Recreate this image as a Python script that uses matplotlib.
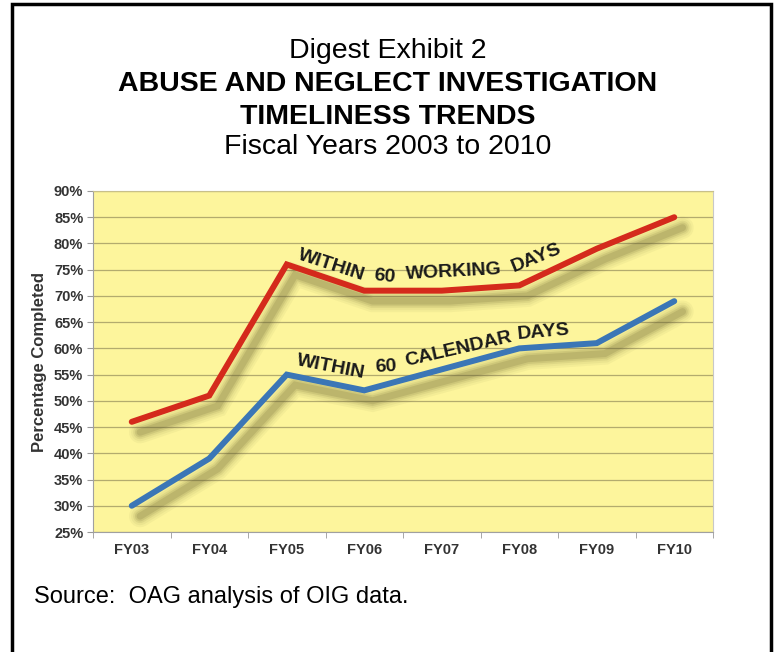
import matplotlib
matplotlib.use('Agg')
import matplotlib.pyplot as plt  # plotting
import matplotlib.patheffects as pe  # drop shadow under the lines
from matplotlib.patches import Rectangle
import numpy as np

plt.rcParams['font.family'] = ['Liberation Sans', 'DejaVu Sans']

# Fiscal years on the x axis
years = ['FY03', 'FY04', 'FY05', 'FY06', 'FY07', 'FY08', 'FY09', 'FY10']

# Percentage of investigations completed
within_working = [46, 51, 76, 71, 71, 72, 79, 85]
within_calendar = [30, 39, 55, 52, 56, 60, 61, 69]

# y axis ticks (percent)
y_ticks = [25, 30, 35, 40, 45, 50, 55, 60, 65, 70, 75, 80, 85, 90]

W, H = 775, 652
fig = plt.figure(figsize=(W / 100, H / 100), dpi=100)
fig.patch.set_facecolor('white')

# plot area in pixels: x 93..713, y 191..532
ax = fig.add_axes([93 / W, 1 - 532 / H, 620 / W, 341 / H])
ax.set_facecolor('#fdf59c')

x = np.arange(len(years))


def shadow_effects():
    # layered offset shadows to fake a soft blur
    fx = []
    for lw, a in [(16, 0.05), (13, 0.06), (10, 0.09), (7.5, 0.12), (5, 0.16)]:
        fx.append(pe.SimpleLineShadow(offset=(6, -7.5), shadow_color='#5e5a2a',
                                      alpha=a, linewidth=lw))
    fx.append(pe.Normal())
    return fx


ax.plot(x, within_working, color='#d42a1c', lw=4.3, solid_capstyle='round',
        solid_joinstyle='miter', path_effects=shadow_effects(), zorder=3)
ax.plot(x, within_calendar, color='#3b76b6', lw=4.3, solid_capstyle='round',
        solid_joinstyle='miter', path_effects=shadow_effects(), zorder=3)

# curved word-art style labels, one word at a time
label_style = dict(fontsize=14, fontweight='bold', color='#1a1a1a',
                   ha='center', va='center', zorder=4)
for word, wx, wy, rot in [('WITHIN', 2.58, 75.8, -18), ('60', 3.26, 73.7, -6),
                          ('WORKING', 4.15, 74.6, 3), ('DAYS', 5.22, 77.3, 22)]:
    ax.text(wx, wy, word, rotation=rot, rotation_mode='anchor', **label_style)
for word, wx, wy, rot in [('WITHIN', 2.57, 56.4, -11), ('60', 3.28, 56.5, 3),
                          ('CALENDAR', 4.22, 59.8, 13), ('DAYS', 5.31, 63.0, 5)]:
    ax.text(wx, wy, word, rotation=rot, rotation_mode='anchor', **label_style)

ax.set_xlim(-0.5, len(years) - 0.5)
ax.set_ylim(25, 90)
ax.set_yticks(y_ticks)
ax.set_yticklabels([f'{v}%' for v in y_ticks])
ax.set_xticks(x)
ax.set_xticklabels(years)
ax.set_xticks(np.arange(-0.5, len(years)), minor=True)
ax.tick_params(axis='x', which='major', length=0, pad=8)
ax.tick_params(axis='x', which='minor', length=4, color='#999999')
ax.tick_params(axis='y', length=4, color='#999999', pad=3)
for lab in ax.get_xticklabels() + ax.get_yticklabels():
    lab.set_fontsize(10.5)
    lab.set_fontweight('bold')
    lab.set_color('#333333')

ax.grid(axis='y', color='#b3ab6e', lw=0.9)
ax.set_axisbelow(True)
for side in ['left', 'bottom']:
    ax.spines[side].set_color('#a0a0a0')
ax.spines['top'].set_color('#c8c08a')
ax.spines['right'].set_color('#c8c8c8')

ax.set_ylabel('Percentage Completed', fontsize=12, fontweight='bold',
              color='#333333', labelpad=5)

# titles
fig.text(0.5, 1 - 51 / H, 'Digest Exhibit 2', ha='center', va='center', fontsize=20.5)
fig.text(0.5, 1 - 84 / H, 'ABUSE AND NEGLECT INVESTIGATION', ha='center',
         va='center', fontsize=20.5, fontweight='bold')
fig.text(0.5, 1 - 117 / H, 'TIMELINESS TRENDS', ha='center', va='center',
         fontsize=20.5, fontweight='bold')
fig.text(0.5, 1 - 147 / H, 'Fiscal Years 2003 to 2010', ha='center', va='center',
         fontsize=20.5)

fig.text(34 / W, 1 - 597 / H, 'Source:  OAG analysis of OIG data.', ha='left',
         va='center', fontsize=17)

# black frame round the exhibit (runs off the bottom of the page)
fig.add_artist(Rectangle((12 / W, -0.2), (771 - 12) / W, 1.2 - 4 / H, fill=False,
                         lw=2.5, edgecolor='black', transform=fig.transFigure))

fig.savefig('out.png', dpi=100)
